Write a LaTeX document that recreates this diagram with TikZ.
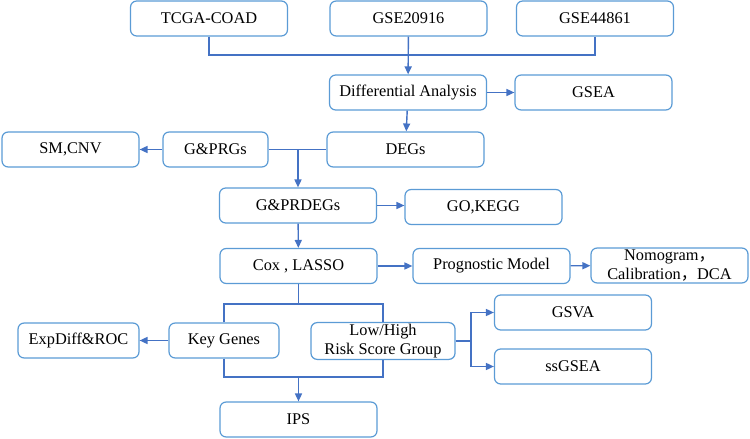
\documentclass[tikz,border=0pt]{standalone}
\usepackage{fontspec}
\setmainfont{Liberation Serif}
\newfontfamily\cjk{Noto Sans CJK SC}
\usetikzlibrary{arrows.meta,calc}
\definecolor{boxblue}{RGB}{91,155,213}
\definecolor{lineblue}{RGB}{68,114,196}

\begin{document}
\begin{tikzpicture}[font=\fontsize{9.3}{10.5}\selectfont,
  box/.style={draw=boxblue, line width=0.7pt, rounded corners=3.5pt, align=center, inner sep=1pt, minimum width=3.14cm, minimum height=0.7cm},
  link/.style={draw=lineblue, line width=0.8pt},
  arr/.style={link, -{Triangle[length=4.5pt,width=4pt]}}]
  \useasboundingbox (0,0) rectangle (15,-8.78);
  % data sets
  \node[box] (tcga) at (4.18,-0.37) {TCGA-COAD};
  \node[box] (gse1) at (8.17,-0.37) {GSE20916};
  \node[box] (gse2) at (11.9,-0.37) {GSE44861};
  % analysis chain
  \node[box] (diff) at (8.16,-1.85) {Differential Analysis};
  \node[box] (gsea) at (11.87,-1.85) {GSEA};
  \node[box] (degs) at (8.11,-2.99) {DEGs};
  \node[box, minimum width=2.1cm] (gprgs) at (4.31,-2.99) {G\&PRGs};
  \node[box, minimum width=2.74cm] (smcnv) at (1.41,-2.99) {SM,CNV};
  \node[box] (gprdegs) at (5.96,-4.11) {G\&PRDEGs};
  \node[box] (gokegg) at (9.67,-4.14) {GO,KEGG};
  \node[box] (cox) at (5.97,-5.32) {Cox , LASSO};
  \node[box] (prog) at (9.83,-5.32) {Prognostic Model};
  \node[box] (nomo) at (13.39,-5.31) {Nomogram{\cjk ，}\\Calibration{\cjk ，}DCA};
  \node[box, minimum width=2.2cm] (key) at (4.48,-6.81) {Key Genes};
  \node[box, minimum width=2.42cm] (expdiff) at (1.57,-6.81) {ExpDiff\&ROC};
  \node[box, minimum width=2.88cm] (risk) at (7.66,-6.82) {Low/High\\Risk Score Group};
  \node[box] (gsva) at (11.46,-6.25) {GSVA};
  \node[box] (ssgsea) at (11.46,-7.33) {ssGSEA};
  \node[box] (ips) at (5.97,-8.39) {IPS};
  % junctions
  \coordinate (top) at (0,-1.1);
  \coordinate (split) at (0,-6.08);
  \coordinate (join) at (0,-7.54);
  \coordinate (fork) at (9.42,0);
  \draw[link] (tcga.south) -- (tcga.south |- top) -- (gse2.south |- top) -- (gse2.south);
  \draw[arr] (gse1) -- (diff);
  \draw[arr] (diff) -- (gsea);
  \draw[arr] (diff) -- (degs);
  \draw[arr] (gprgs) -- (smcnv);
  \draw[link] (gprgs) -- (degs);
  \draw[arr] (gprdegs.north |- gprgs.east) -- (gprdegs);
  \draw[arr] (gprdegs) -- (gokegg.west |- gprdegs.east);
  \draw[arr] (gprdegs) -- (cox);
  \draw[arr] (cox) -- (prog);
  \draw[arr] (prog) -- (nomo);
  \draw[link] (cox) -- (cox.south |- split);
  \draw[link] (key.north) -- (key.north |- split) -- (risk.north |- split) -- (risk.north);
  \draw[link] (key.south) -- (key.south |- join) -- (risk.south |- join) -- (risk.south);
  \draw[arr] (ips.north |- join) -- (ips);
  \draw[arr] (key) -- (expdiff);
  \draw[link] (risk.east) -- (fork |- risk.east);
  \draw[arr] (fork |- risk.east) -- (fork |- gsva.west) -- (gsva.west);
  \draw[arr] (fork |- risk.east) -- (fork |- ssgsea.west) -- (ssgsea.west);
\end{tikzpicture}
\end{document}
